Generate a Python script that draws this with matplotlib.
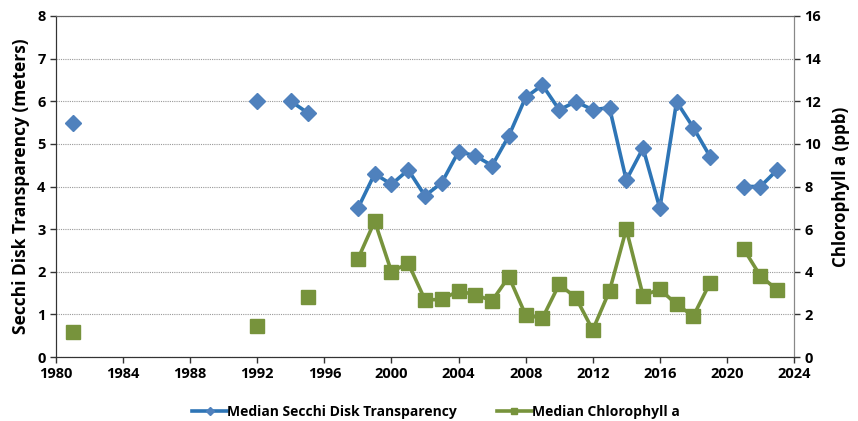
import numpy as np
import matplotlib.pyplot as plt

# data (NaN = no sample that year)
years = list(range(1981, 2024))
secchi = {1981: 5.5, 1992: 6.0, 1994: 6.0, 1995: 5.73,
          1998: 3.49, 1999: 4.3, 2000: 4.05, 2001: 4.39, 2002: 3.78, 2003: 4.09,
          2004: 4.82, 2005: 4.72, 2006: 4.49, 2007: 5.19, 2008: 6.09, 2009: 6.38,
          2010: 5.8, 2011: 5.99, 2012: 5.8, 2013: 5.85, 2014: 4.15, 2015: 4.9,
          2016: 3.49, 2017: 5.99, 2018: 5.38, 2019: 4.7,
          2021: 4.0, 2022: 4.0, 2023: 4.39}
chla = {1981: 1.19, 1992: 1.47, 1995: 2.83,
        1998: 4.6, 1999: 6.37, 2000: 4.0, 2001: 4.4, 2002: 2.68, 2003: 2.7,
        2004: 3.1, 2005: 2.92, 2006: 2.64, 2007: 3.77, 2008: 1.97, 2009: 1.82,
        2010: 3.41, 2011: 2.78, 2012: 1.27, 2013: 3.1, 2014: 6.0, 2015: 2.88,
        2016: 3.18, 2017: 2.47, 2018: 1.92, 2019: 3.49,
        2021: 5.07, 2022: 3.8, 2023: 3.15}

secchi_vals = [secchi.get(y, np.nan) for y in years]
chla_vals = [chla.get(y, np.nan) for y in years]

plt.rcParams['font.family'] = ['Open Sans', 'DejaVu Sans']
plt.rcParams['font.weight'] = 'bold'
plt.rcParams['axes.labelweight'] = 'bold'

fig = plt.figure(figsize=(8.58, 4.21), dpi=100)
ax = fig.add_axes([0.0653, 0.152, 0.8601, 0.81])
ax2 = ax.twinx()

l1, = ax.plot(years, secchi_vals, color='#2E75B6', lw=2.6, marker='D', ms=8.5,
              mfc='#4F81BD', mec='#4F81BD', label='Median Secchi Disk Transparency', zorder=3)
l2, = ax2.plot(years, chla_vals, color='#77933C', lw=2.6, marker='s', ms=10,
               mfc='#77933C', mec='#77933C', label='Median Chlorophyll a', zorder=3)

ax.set_xlim(1980, 2024)
ax.set_ylim(0, 8)
ax2.set_ylim(0, 16)
ax.set_xticks(range(1980, 2025, 4))
ax.set_yticks(range(0, 9))
ax2.set_yticks(range(0, 17, 2))

ax.grid(axis='y', color='#999999', ls=(0, (1, 1)), lw=0.8)
ax.set_axisbelow(True)

for a in (ax, ax2):
    a.tick_params(labelsize=10.5, length=4, width=1, colors='#333333')
    a.spines['top'].set_color('#666666')
    a.spines['right'].set_color('#888888')
    a.spines['left'].set_color('#333333')
    a.spines['bottom'].set_color('#333333')
for lab in ax.get_xticklabels() + ax.get_yticklabels() + ax2.get_yticklabels():
    lab.set_color('black')
    lab.set_fontweight('bold')

ax.set_ylabel('Secchi Disk Transparency (meters)', fontsize=12.5, labelpad=5, fontweight='bold')
ax2.set_ylabel('Chlorophyll a (ppb)', fontsize=12.2, labelpad=8, fontweight='bold')

leg = fig.legend(handles=[l1, l2], loc='center', bbox_to_anchor=(0.508, 0.022), ncol=2,
                 frameon=False, fontsize=10, handlelength=2.5, columnspacing=2.9,
                 handletextpad=0.0, markerscale=0.5, borderpad=0.1)
for t in leg.get_texts():
    t.set_fontweight('bold')

fig.savefig('out.png', dpi=100)
